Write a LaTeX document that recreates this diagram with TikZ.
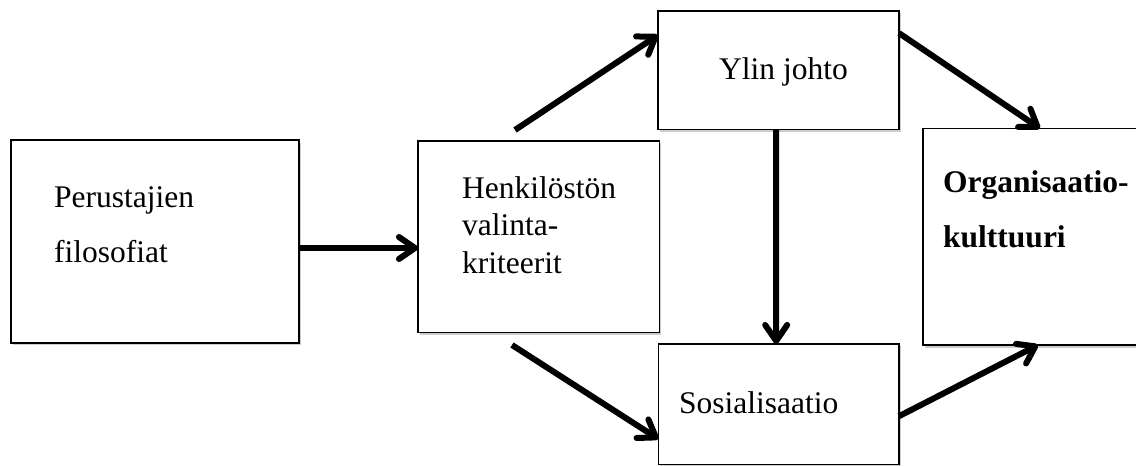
\documentclass[tikz,border=0pt]{standalone}
\usepackage{fontspec}
\setmainfont{Liberation Serif}
\usetikzlibrary{arrows.meta,shadows,calc}
\begin{document}
\begin{tikzpicture}[x=1pt,y=-1pt,
  box/.style={draw=black,line width=1.9pt,fill=white,rectangle,inner sep=0pt,outer sep=0pt,
    drop shadow={shadow xshift=2pt,shadow yshift=-2.5pt,fill=black,opacity=0.2}},
  lbl/.style={anchor=base west,inner sep=0pt,font=\fontsize{31.5}{37}\selectfont},
  blbl/.style={lbl,font=\fontsize{31.5}{37}\selectfont\bfseries},
  conn/.style={line width=6pt,-{Straight Barb[length=16pt,width=22pt,round]}}]
\useasboundingbox (0,0) rectangle (1136,466);
\fill[white] (0,0) rectangle (1136,466);
% boxes
\node[box,minimum width=288.3pt,minimum height=202.7pt] (b1) at (154.9,241.4) {};
\node[box,minimum width=241.5pt,minimum height=191.8pt] (b2) at (538.7,236.6) {};
\node[box,minimum width=241pt,minimum height=118.8pt] (b3) at (778.5,70.1) {};
\node[box,minimum width=240.5pt,minimum height=120.5pt] (b4) at (778.7,404.2) {};
\node[box,minimum width=222pt,minimum height=216.5pt] (b5) at (1034,236.75) {};
% texts
\node[lbl] (t1a) at (54,207) {Perustajien};
\node[lbl] (t1b) at (54,262) {filosofiat};
\node[lbl] (t2a) at (462,198) {Henkilöstön};
\node[lbl] (t2b) at (462,235) {valinta-};
\node[lbl] (t2c) at (462,273) {kriteerit};
\node[lbl] (t3) at (719,79) {Ylin johto};
\node[lbl] (t4) at (679,413) {Sosialisaatio};
\node[blbl] (t5a) at (943,192) {Organisaatio-};
\node[blbl] (t5b) at (943,247) {kulttuuri};
% connectors
\coordinate (s2) at (515,130);
\coordinate (s3) at (512,345);
\draw[conn] ([yshift=-6.6pt]b1.east) -- ([yshift=-11.4pt]b2.west);
\draw[conn] (s2) -- ([yshift=35pt]b3.west);
\draw[conn] (s3) -- ([yshift=-34.8pt]b4.west);
\draw[conn] ([xshift=-2.5pt]b3.south) -- ([xshift=-2.5pt]b4.north);
\draw[conn] ([yshift=37pt]b3.east) -- ([xshift=117pt]b5.north west);
\draw[conn] ([yshift=-12pt]b4.east) -- ([xshift=115pt]b5.south west);
\end{tikzpicture}
\end{document}
